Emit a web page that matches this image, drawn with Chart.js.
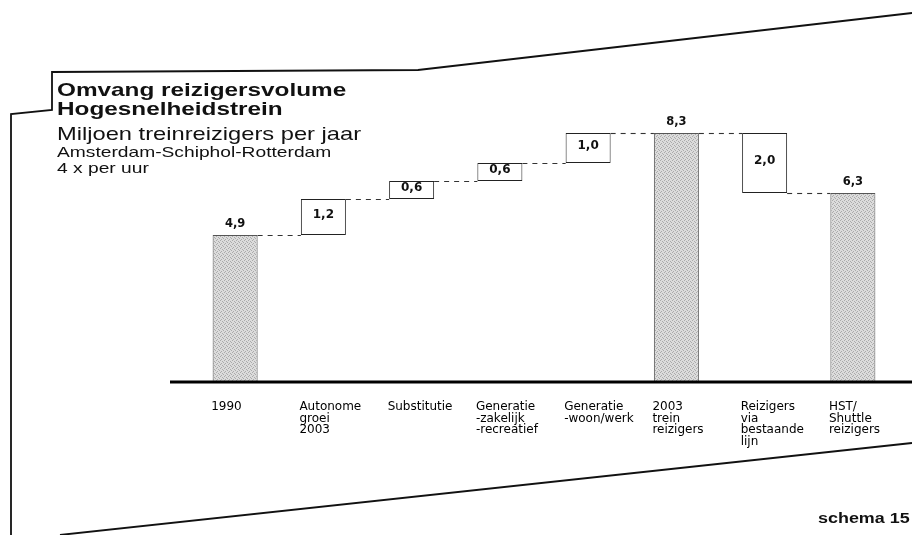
<!DOCTYPE html>
<html>
<head>
<meta charset="utf-8">
<script src="https://cdn.jsdelivr.net/npm/chart.js@4.4.0/dist/chart.umd.min.js"></script>
<style>
  body { margin: 0; background: #fff; }
  #wrap { position: relative; width: 912px; height: 535px; }
  .t { position: absolute; left: 57px; white-space: nowrap; line-height: 1;
       font-family: "Liberation Sans", Arial, sans-serif; color: #111;
       transform: scaleX(1.28); transform-origin: 0 0; }
</style>
</head>
<body>
<div id="wrap">
  <canvas id="chart" width="912" height="535"></canvas>
  <div class="t" style="top:80px; font-size:19px; font-weight:bold;">Omvang reizigersvolume</div>
  <div class="t" style="top:99px; font-size:19px; font-weight:bold;">Hogesnelheidstrein</div>
  <div class="t" style="top:125px; font-size:18.5px;">Miljoen treinreizigers per jaar</div>
  <div class="t" style="top:144px; font-size:15px;">Amsterdam-Schiphol-Rotterdam</div>
  <div class="t" style="top:160px; font-size:15px;">4 x per uur</div>
  <div class="t" style="top:511px; left:818px; font-size:14px; font-weight:bold;">schema 15</div>
</div>
<script>
var categories = [
    ['1990'],
    ['Autonome', 'groei', '2003'],
    ['Substitutie'],
    ['Generatie', '-zakelijk', '-recreatief'],
    ['Generatie', '-woon/werk'],
    ['2003', 'trein', 'reizigers'],
    ['Reizigers', 'via', 'bestaande', 'lijn'],
    ['HST/', 'Shuttle', 'reizigers']
];
var values = [4.9, 1.2, 0.6, 0.6, 1.0, 8.3, -2.0, 6.3];
var isTotal = [true, false, false, false, false, true, false, true];

// floating ranges for the waterfall, and the running level after each bar
var ranges = [], ends = [];
var running = 0;
values.forEach(function (v, i) {
    if (isTotal[i]) {
        ranges.push([0, v]);
        running = v;
    } else {
        var next = +(running + v).toFixed(2);
        ranges.push([Math.min(running, next), Math.max(running, next)]);
        running = next;
    }
    ends.push(running);
});

var canvas = document.getElementById('chart');
var ctx = canvas.getContext('2d');

// stippled grey like the printed bars
var tile = document.createElement('canvas');
tile.width = 4; tile.height = 4;
var tg = tile.getContext('2d');
tg.fillStyle = '#dcdcdc';
tg.fillRect(0, 0, 4, 4);
tg.fillStyle = '#ababab';
[[0, 0], [2, 1], [1, 3], [3, 2]].forEach(function (p) { tg.fillRect(p[0], p[1], 1, 1); });
var grey = ctx.createPattern(tile, 'repeat');

var extras = {
    id: 'extras',
    beforeDraw: function (chart) {
        var c = chart.ctx;
        c.save();
        c.strokeStyle = '#111';
        c.lineWidth = 1.8;
        c.beginPath();
        c.moveTo(11, 535); c.lineTo(11, 114); c.lineTo(52, 110);
        c.lineTo(52, 72); c.lineTo(418, 70); c.lineTo(912, 13);
        c.stroke();
        c.beginPath();
        c.moveTo(60, 535); c.lineTo(912, 443);
        c.stroke();
        c.restore();
    },
    afterDatasetsDraw: function (chart) {
        var c = chart.ctx;
        var meta = chart.getDatasetMeta(0);
        var y = chart.scales.y;
        c.save();
        // dashed connectors between the steps
        c.setLineDash([5, 5]);
        c.strokeStyle = '#333';
        c.lineWidth = 1.1;
        for (var i = 0; i < meta.data.length - 1; i++) {
            var a = meta.data[i], b = meta.data[i + 1];
            var py = Math.round(y.getPixelForValue(ends[i])) + 0.5;
            c.beginPath();
            c.moveTo(a.x + a.width / 2, py);
            c.lineTo(b.x - b.width / 2, py);
            c.stroke();
        }
        c.setLineDash([]);
        // base line
        var base = y.getPixelForValue(0);
        c.strokeStyle = '#000';
        c.lineWidth = 3;
        c.beginPath();
        c.moveTo(170, base);
        c.lineTo(912, base);
        c.stroke();
        // value labels
        c.fillStyle = '#111';
        c.textAlign = 'center';
        meta.data.forEach(function (bar, i) {
            var txt = Math.abs(values[i]).toFixed(1).replace('.', ',');
            if (isTotal[i]) {
                c.font = 'bold 11.5px "DejaVu Sans"';
                c.textBaseline = 'alphabetic';
                c.fillText(txt, bar.x, Math.min(bar.y, bar.base) - 8);
            } else {
                c.font = 'bold 12px "DejaVu Sans"';
                c.textBaseline = 'middle';
                c.fillText(txt, bar.x, (bar.y + bar.base) / 2 - 2);
            }
        });
        c.restore();
    }
};

var chart = new Chart(ctx, {
    type: 'bar',
    data: {
        labels: categories,
        datasets: [{
            data: ranges,
            backgroundColor: isTotal.map(function (t) { return t ? grey : '#fff'; }),
            borderColor: isTotal.map(function (t) { return t ? '#555' : '#222'; }),
            borderWidth: 1,
            borderSkipped: false,
            categoryPercentage: 1,
            barPercentage: 0.51
        }]
    },
    options: {
        responsive: false,
        animation: false,
        layout: { padding: { left: 191, right: 15, top: 82, bottom: 0 } },
        plugins: { legend: { display: false }, tooltip: { enabled: false } },
        scales: {
            x: {
                grid: { display: false, drawTicks: false },
                border: { display: false },
                ticks: {
                    color: '#000',
                    font: { family: 'DejaVu Sans', size: 12, lineHeight: 0.975 },
                    align: 'start',
                    labelOffset: -24,
                    padding: 19,
                    maxRotation: 0,
                    autoSkip: false
                },
                afterFit: function (axis) {
                    // labels hang left-aligned inside the frame; keep the plot
                    // width and put the base line where the original has it
                    axis.paddingLeft = 0;
                    axis.paddingRight = 0;
                    axis.height = 153;
                }
            },
            y: { display: false, min: 0, max: 10 }
        }
    },
    plugins: [extras]
});
</script>
</body>
</html>
